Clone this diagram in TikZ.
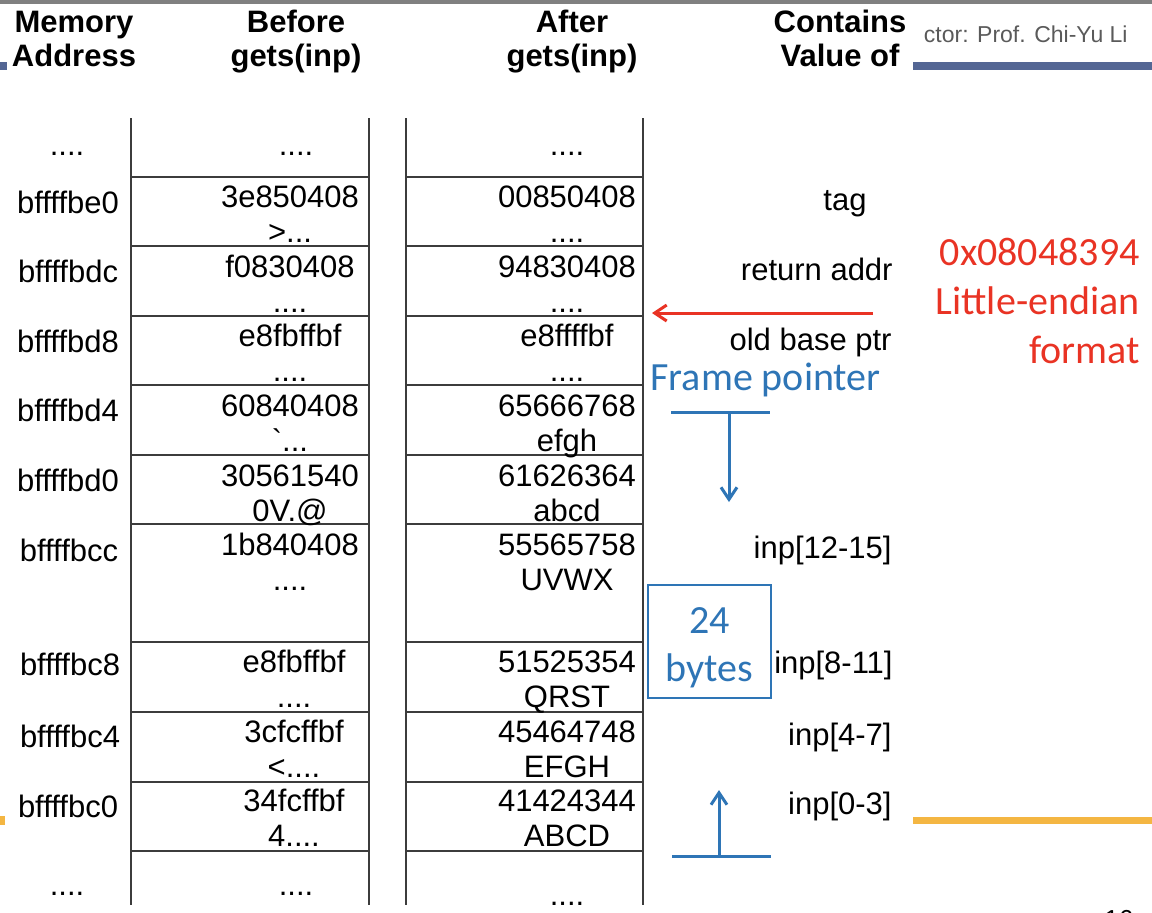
\documentclass[tikz,border=0pt]{standalone}
\usepackage{fontspec}
\setmainfont{Liberation Sans}
\newfontfamily\calibri{Carlito}
\usetikzlibrary{arrows.meta}
\definecolor{slideblue}{RGB}{46,117,182}
\definecolor{slidered}{RGB}{233,51,36}
\definecolor{slate}{RGB}{84,102,148}
\definecolor{gold}{RGB}{244,182,66}
\definecolor{topgray}{RGB}{128,128,128}
\definecolor{footgray}{RGB}{90,90,90}
\definecolor{gridgray}{RGB}{60,60,60}

\begin{document}
\begin{tikzpicture}[x=0.5pt,y=-0.5pt,
  hdr/.style={anchor=base,align=center,inner sep=0pt,font=\bfseries\fontsize{15.5}{17}\selectfont},
  cell/.style={anchor=base,align=center,inner sep=0pt,font=\fontsize{15.5}{17.5}\selectfont},
  note/.style={anchor=base east,inner sep=0pt,font=\fontsize{15.5}{17.5}\selectfont},
  grid/.style={gridgray,line width=0.9pt},
  bluebar/.style={slideblue,line width=1.5pt},
  redarrow/.style={slidered,line width=1.5pt,-{Straight Barb[length=6pt,width=8pt]}}]
\useasboundingbox (0,0) rectangle (1152,912);
% Slide decoration
\fill[topgray] (0,0) rectangle (1152,4);
\fill[slate] (0,62) rectangle (7,70);
\fill[slate] (913,62) rectangle (1152,70);
\fill[gold] (0,816) rectangle (5,825);
\fill[gold] (913,817) rectangle (1152,824);
\node[anchor=base east,inner sep=0pt,text=footgray,font=\fontsize{11.5}{13}\selectfont] (instr) at (1128,42) {ctor: Prof. Chi-Yu Li};
\node[anchor=base west,inner sep=0pt,font=\fontsize{13}{15}\selectfont] (pagenum) at (1104,928) {16};
% Column headers (base = last line)
\node[hdr] (hdraddr) at (74,66) {Memory\\Address};
\node[hdr] (hdrbefore) at (296,66) {Before\\gets(inp)};
\node[hdr] (hdrafter) at (572,66) {After\\gets(inp)};
\node[hdr] (hdrvalue) at (840,66) {Contains\\Value of};
% The two stack columns
\draw[grid] (131,118) -- (131,905) (369,118) -- (369,905);
\draw[grid] (406,118) -- (406,905) (643,118) -- (643,905);
\foreach \y in {177,246,316,385,455,524,642,712,782,851}
  \draw[grid] (131,\y) -- (369,\y) (406,\y) -- (643,\y);
% Addresses
\node[cell] (addrtop) at (67,155) {....};
\node[cell] (addrbe0) at (68,213) {bffffbe0};
\node[cell] (addrbdc) at (68,282) {bffffbdc};
\node[cell] (addrbd8) at (68,352) {bffffbd8};
\node[cell] (addrbd4) at (68,421) {bffffbd4};
\node[cell] (addrbd0) at (68,491) {bffffbd0};
\node[cell] (addrbcc) at (69,561) {bffffbcc};
\node[cell] (addrbc8) at (70,675) {bffffbc8};
\node[cell] (addrbc4) at (70,747) {bffffbc4};
\node[cell] (addrbc0) at (68,817) {bffffbc0};
\node[cell] (addrbot) at (67,895) {....};
% Before gets(inp)
\node[cell] (beftop) at (296,155) {....};
\node[cell] (befbe0) at (290,242) {3e850408\\>...};
\node[cell] (befbdc) at (290,312) {f0830408\\....};
\node[cell] (befbd8) at (290,381) {e8fbffbf\\....};
\node[cell] (befbd4) at (290,451) {60840408\\\textasciigrave...};
\node[cell] (befbd0) at (290,521) {30561540\\0V.@};
\node[cell] (befbcc) at (290,590) {1b840408\\....};
\node[cell] (befbc8) at (294,707) {e8fbffbf\\....};
\node[cell] (befbc4) at (294,777) {3cfcffbf\\<....};
\node[cell] (befbc0) at (294,846) {34fcffbf\\4....};
\node[cell] (befbot) at (296,895) {....};
% After gets(inp)
\node[cell] (afttop) at (567,155) {....};
\node[cell] (aftbe0) at (567,242) {00850408\\....};
\node[cell] (aftbdc) at (567,312) {94830408\\....};
\node[cell] (aftbd8) at (567,381) {e8ffffbf\\....};
\node[cell] (aftbd4) at (567,451) {65666768\\efgh};
\node[cell] (aftbd0) at (567,521) {61626364\\abcd};
\node[cell] (aftbcc) at (567,590) {55565758\\UVWX};
\node[cell] (aftbc8) at (567,707) {51525354\\QRST};
\node[cell] (aftbc4) at (567,777) {45464748\\EFGH};
\node[cell] (aftbc0) at (567,846) {41424344\\ABCD};
\node[cell] (aftbot) at (567,905) {....};
% What each slot holds
\node[cell] (valtag) at (845,210) {tag};
\node[note] (valret) at (893,280) {return addr};
\node[note] (valebp) at (892,350) {old base ptr};
\node[note] (valinp3) at (892,558) {inp[12-15]};
\node[note] (valinp2) at (893,673) {inp[8-11]};
\node[note] (valinp1) at (892,745) {inp[4-7]};
\node[note] (valinp0) at (892,814) {inp[0-3]};
% Overwritten return address
\node[anchor=base east,align=right,inner sep=0pt,text=slidered,font=\calibri\fontsize{20}{24.5}\selectfont] (endian) at (1140,363) {0x08048394\\Little-endian\\format};
\coordinate (retfrom) at (873,313);
\coordinate (retto) at (652,313);
\draw[redarrow] (retfrom) -- (retto);
% Frame pointer marker
\node[anchor=base west,inner sep=0pt,text=slideblue,font=\calibri\fontsize{20}{24}\selectfont] (framelbl) at (650,390) {Frame pointer};
\coordinate (fpleft) at (671,412);
\coordinate (fpright) at (770,412);
\coordinate (fpfoot) at (729,412);
\coordinate (fptip) at (729,502);
\draw[bluebar] (fpleft) -- (fpright);
\draw[bluebar,-{Straight Barb[length=6pt,width=8pt]}] (fpfoot) -- (fptip);
% Buffer size
\node[draw=slideblue,line width=0.75pt,minimum width=61.5pt,minimum height=56.5pt,inner sep=0pt,align=center,text=slideblue,font=\calibri\fontsize{20}{24}\selectfont] (bytesbox) at (709.5,641.5) {\rule{0pt}{19pt}24\\bytes};
% Start of inp
\coordinate (inpleft) at (672,856);
\coordinate (inpright) at (771,856);
\coordinate (inpfoot) at (719,856);
\coordinate (inptip) at (719,790);
\draw[bluebar] (inpleft) -- (inpright);
\draw[bluebar,-{Straight Barb[length=6pt,width=8pt]}] (inpfoot) -- (inptip);
\end{tikzpicture}
\end{document}
